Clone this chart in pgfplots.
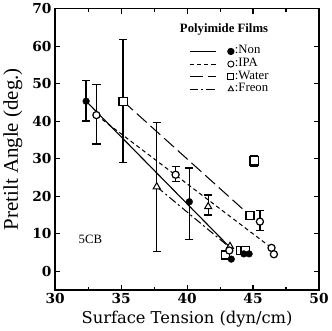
\documentclass[border=0pt]{standalone}
\usepackage{pgfplots}
\pgfplotsset{compat=1.18}
\usepackage{fontspec}
\setmainfont{DejaVu Serif}
\newfontfamily\timesf{Liberation Serif}
\pgfplotsset{
  eb/.style={/pgfplots/error bars/y dir=both,/pgfplots/error bars/y explicit,
    /pgfplots/error bars/error bar style={line width=1.3pt,solid},
    /pgfplots/error bars/error mark options={rotate=90,mark size=4pt,line width=1.3pt,solid}},
  nonl/.style={black,line width=1.1pt,solid},
  ipal/.style={black,line width=1pt,dash pattern=on 4bp off 3bp},
  watl/.style={black,line width=1pt,dash pattern=on 13bp off 5bp},
  frel/.style={black,line width=1pt,dash pattern=on 8bp off 3bp on 2bp off 3bp},
}
\begin{document}
\begin{tikzpicture}
\begin{axis}[
  scale only axis, width=258bp, height=275bp,
  xmin=30, xmax=50, ymin=-5, ymax=70,
  xtick={30,35,...,50}, ytick={0,10,...,70},
  minor xtick={32.5,37.5,42.5,47.5},
  tick align=inside, major tick length=5bp, minor tick length=3bp,
  axis line style={line width=1.5pt},
  every tick/.style={line width=1.1pt,black},
  ticklabel style={font=\bfseries\fontsize{13.5}{13.5}\selectfont},
  /pgf/number format/assume math mode=true,
  xlabel={Surface Tension (dyn/cm)},
  ylabel={Pretilt Angle (deg.)},
  xlabel style={font=\fontsize{16}{16}\selectfont, at={(axis description cs:0.5,-0.105)}, anchor=center},
  ylabel style={font=\timesf\fontsize{20.5}{20.5}\selectfont, at={(axis description cs:-0.16,0.5)}, anchor=center},
  legend style={draw=none, fill=none, inner sep=0pt, at={(axis cs:40.16,60.3)}, anchor=north west,
    font=\timesf\fontsize{12.5}{12.5}\selectfont, row sep=0pt,
    nodes={inner ysep=0pt, inner xsep=1bp, text height=8.5bp, text depth=3.8bp}},
  legend cell align=left,
  legend image code/.code={
    \draw[#1,mark=none] (0bp,0bp) -- (25bp,0bp);
    \draw[#1,solid] plot coordinates {(40bp,0bp)};
  },
]
% legend
\addlegendimage{nonl, mark=*, mark size=3pt, mark options={solid,fill=black}}
\addlegendentry{:Non}
\addlegendimage{ipal, mark=o, mark size=3pt, mark options={solid,fill=white,line width=0.9pt}}
\addlegendentry{:IPA}
\addlegendimage{watl, mark=square, mark size=3pt, mark options={solid,fill=white,line width=0.9pt}}
\addlegendentry{:Water}
\addlegendimage{frel, mark=triangle, mark size=3pt, mark options={solid,fill=white,line width=0.9pt}}
\addlegendentry{:Freon}

% lines
\addplot[nonl, forget plot] coordinates {(32.35,45.3) (43.4,5.8)};
\addplot[ipal, forget plot] coordinates {(33.13,41.6) (46.4,6.2)};
\addplot[watl, forget plot] coordinates {(35.15,45.3) (44.77,14.8)};
\addplot[frel, forget plot] coordinates {(37.7,22.5) (43.2,6.4)};

% Water markers
\addplot[only marks, mark=square*, mark size=4pt, mark options={fill=white,draw=black,line width=1.2pt}, forget plot, eb] coordinates {
(35.15,45.3) += (0,16.5) -= (0,16.3)
(45.08,29.4) += (0,1.3) -= (0,1.4)
};
\addplot[only marks, mark=square*, mark size=4pt, mark options={fill=white,draw=black,line width=1.2pt}, forget plot] coordinates {
(42.9,4.3) (44.05,5.5) (44.4,5.5) (44.77,14.8)
};
% Freon markers
\addplot[only marks, mark=triangle*, mark size=4pt, mark options={fill=white,draw=black,line width=1pt}, forget plot, eb] coordinates {
(37.7,22.5) += (0,17.2) -= (0,17.3)
(41.6,17.2) += (0,3.1) -= (0,2.2)
};
\addplot[only marks, mark=triangle*, mark size=4pt, mark options={fill=white,draw=black,line width=1pt}, forget plot] coordinates {
(43.25,6.6)
};
% IPA markers
\addplot[only marks, mark=*, mark size=3.5pt, mark options={fill=white,draw=black,line width=1.2pt}, forget plot, eb] coordinates {
(33.13,41.6) += (0,8.1) -= (0,7.7)
(39.13,25.7) += (0,2.2) -= (0,1.8)
(45.52,13.2) += (0,2.9) -= (0,2.3)
};
\addplot[only marks, mark=*, mark size=3.5pt, mark options={fill=white,draw=black,line width=1.2pt}, forget plot] coordinates {
(43.2,5.5) (46.4,6.2) (46.58,4.5)
};
% Non markers
\addplot[only marks, mark=*, mark size=3.3pt, black, forget plot, eb] coordinates {
(32.35,45.3) += (0,5.6) -= (0,5.3)
(40.17,18.5) += (0,9.0) -= (0,10.1)
};
\addplot[only marks, mark=*, mark size=3.3pt, black, forget plot] coordinates {
(43.35,3.2) (44.3,4.6) (44.7,4.6)
};

\node[font=\timesf\bfseries\fontsize{12.5}{12.5}\selectfont] at (axis cs:42.8,64.4) {Polyimide Films};
\node[font=\timesf\fontsize{12.5}{12.5}\selectfont] at (axis cs:32.67,8.6) {5CB};
\end{axis}
\end{tikzpicture}
\end{document}
